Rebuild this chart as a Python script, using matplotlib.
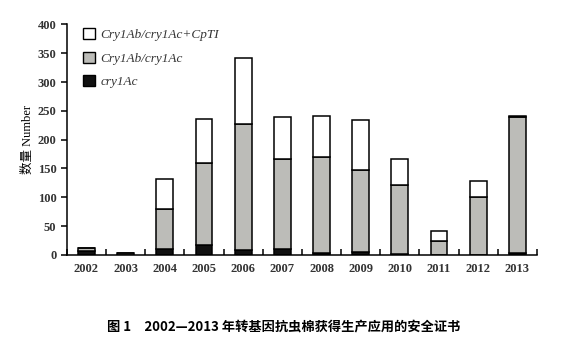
import numpy as np
import matplotlib.pyplot as plt
from matplotlib.patches import Patch

years = ['2002', '2003', '2004', '2005', '2006', '2007',
         '2008', '2009', '2010', '2011', '2012', '2013']
cry1ac = [7, 0, 10, 18, 9, 11, 3, 6, 1, 0, 0, 4]
cry1ab_cry1ac = [5, 4, 69, 142, 218, 155, 167, 141, 121, 24, 101, 235]
cry1ab_cpti = [0, 0, 52, 76, 114, 74, 71, 87, 44, 18, 27, 2]

labels = ['Cry1Ab/cry1Ac+CpTI', 'Cry1Ab/cry1Ac', 'cry1Ac']
colors = ['white', '#bcbcb8', '#111111']

serif = ['Liberation Serif', 'Noto Sans CJK SC']

fig = plt.figure(figsize=(5.67, 3.43), dpi=100)
ax = fig.add_axes([0.118, 0.2566, 0.829, 0.6724])

x = np.arange(len(years))
b1 = np.array(cry1ac)
b2 = b1 + np.array(cry1ab_cry1ac)
w = 0.43
ax.bar(x, cry1ac, w, color=colors[2], edgecolor='black', linewidth=1.1)
ax.bar(x, cry1ab_cry1ac, w, bottom=b1, color=colors[1], edgecolor='black', linewidth=1.1)
ax.bar(x, cry1ab_cpti, w, bottom=b2, color=colors[0], edgecolor='black', linewidth=1.1)

ax.set_xlim(-0.5, len(years) - 0.5)
ax.set_ylim(0, 400)
ax.set_yticks(np.arange(0, 401, 50))
ax.set_xticks(x)
ax.set_xticklabels(years)
ax.set_xticks(np.arange(-0.5, len(years), 1), minor=True)
ax.tick_params(axis='x', which='major', length=0, pad=6)
ax.tick_params(axis='x', which='minor', direction='in', length=4, width=1.1)
ax.tick_params(axis='y', direction='out', length=4, width=1.1)
for lab in ax.get_xticklabels() + ax.get_yticklabels():
    lab.set_family(serif)
    lab.set_fontsize(9)
    lab.set_color('#333333')
    lab.set_fontweight('bold')

for s in ['top', 'right']:
    ax.spines[s].set_visible(False)
for s in ['left', 'bottom']:
    ax.spines[s].set_linewidth(1.1)

ax.set_ylabel('数量 Number', family=serif, fontsize=9, labelpad=3)

handles = [Patch(facecolor=c, edgecolor='black', linewidth=1.0) for c in colors]
leg = ax.legend(handles, labels, loc='upper left', bbox_to_anchor=(0.01, 1.035),
                frameon=False, handlelength=0.9, handleheight=0.9,
                handletextpad=0.4, labelspacing=0.8,
                prop={'family': serif, 'style': 'italic', 'size': 9.5})
for t in leg.get_texts():
    t.set_color('#333333')

fig.text(0.5, 0.045, '图 1　2002—2013 年转基因抗虫棉获得生产应用的安全证书',
         ha='center', va='center', fontsize=9.5, fontweight='bold',
         family=['Noto Sans CJK SC', 'DejaVu Sans'])

fig.savefig('out.png', dpi=100)
